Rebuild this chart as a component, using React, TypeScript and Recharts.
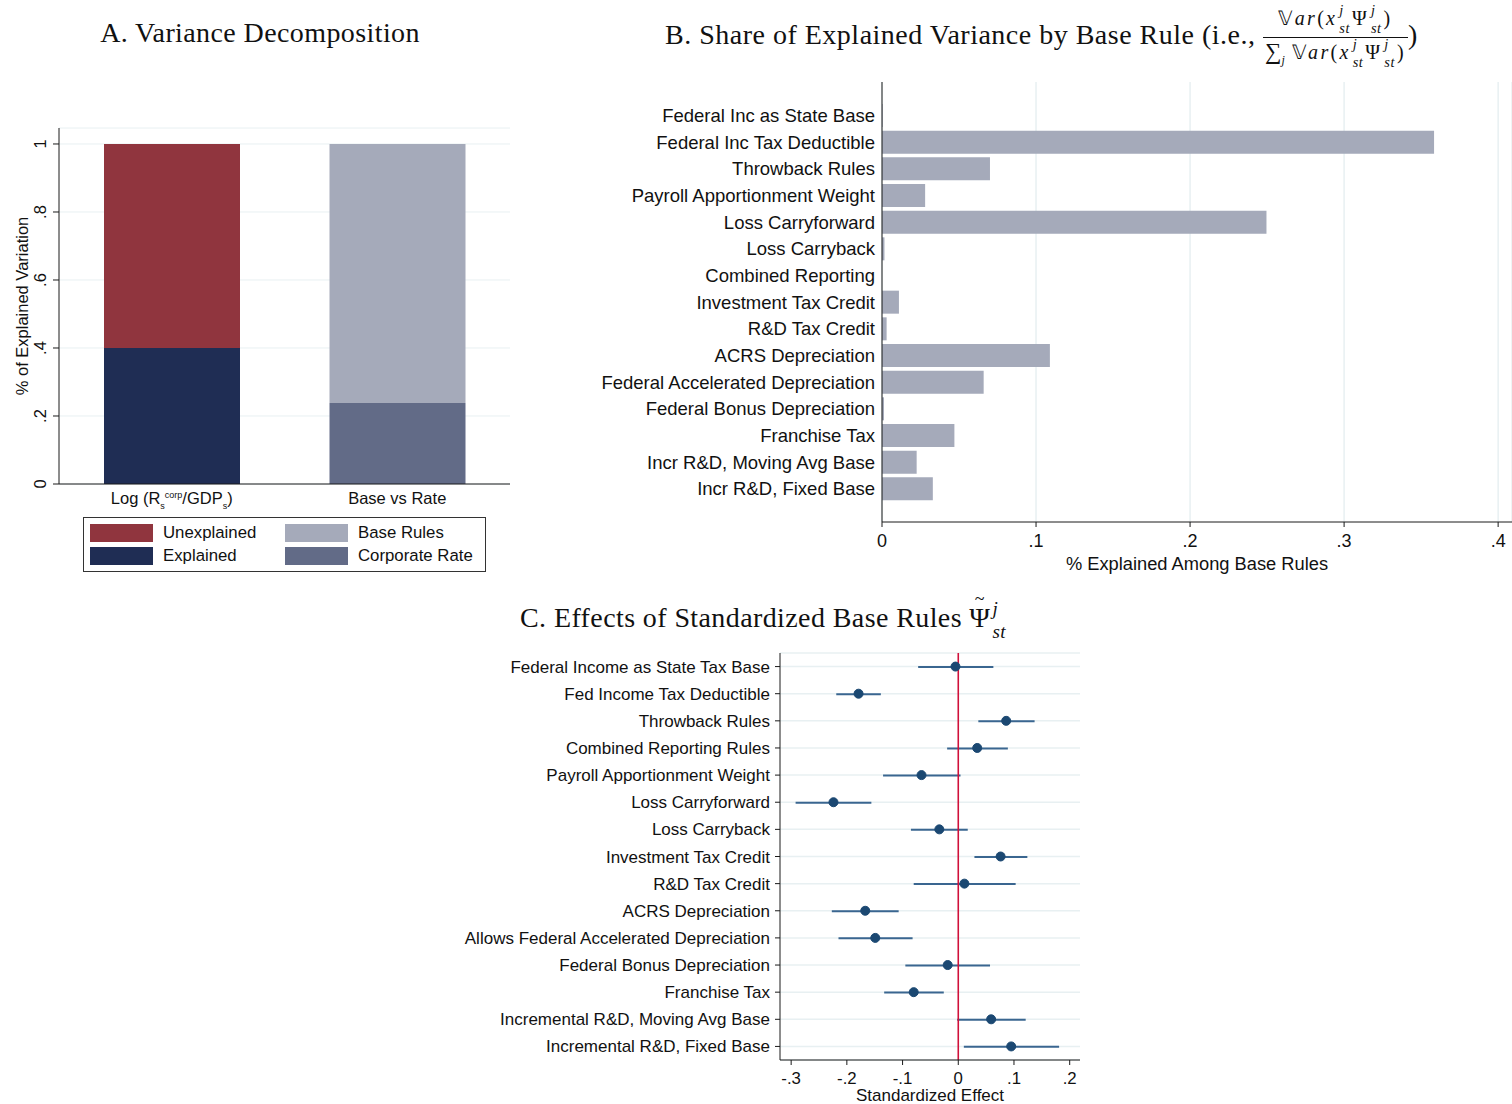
import React from 'react';
import {
  BarChart,
  Bar,
  ComposedChart,
  Line,
  XAxis,
  YAxis,
  CartesianGrid,
  ReferenceLine,
} from 'recharts';

const SANS = '"Liberation Sans", Arial, Helvetica, sans-serif';
const SERIF = '"Liberation Serif", "Times New Roman", serif';

// Panel A: variance decomposition
const decompCategories = ['Log (Rs corp/GDPs)', 'Base vs Rate'];
const explainedShare = [0.4, 0];
const unexplainedShare = [0.6, 0];
const corpRateShare = [0, 0.238];
const baseRulesShare = [0, 0.762];
const decompTicks = [0, 0.2, 0.4, 0.6, 0.8, 1];

// Panel B: share of explained variance by base rule
const ruleLabels = [
  'Federal Inc as State Base',
  'Federal Inc Tax Deductible',
  'Throwback Rules',
  'Payroll Apportionment Weight',
  'Loss Carryforward',
  'Loss Carryback',
  'Combined Reporting',
  'Investment Tax Credit',
  'R&D Tax Credit',
  'ACRS Depreciation',
  'Federal Accelerated Depreciation',
  'Federal Bonus Depreciation',
  'Franchise Tax',
  'Incr R&D, Moving Avg Base',
  'Incr R&D, Fixed Base',
];
const ruleShares = [
  0.0004, 0.3584, 0.0701, 0.028, 0.2496, 0.0016, 0.0, 0.011, 0.003, 0.109, 0.066, 0.0013, 0.047,
  0.0225, 0.033,
];
const shareTicks = [0, 0.1, 0.2, 0.3, 0.4];

// Panel C: standardized effects with confidence intervals
const effectLabels = [
  'Federal Income as State Tax Base',
  'Fed Income Tax Deductible',
  'Throwback Rules',
  'Combined Reporting Rules',
  'Payroll Apportionment Weight',
  'Loss Carryforward',
  'Loss Carryback',
  'Investment Tax Credit',
  'R&D Tax Credit',
  'ACRS Depreciation',
  'Allows Federal Accelerated Depreciation',
  'Federal Bonus Depreciation',
  'Franchise Tax',
  'Incremental R&D, Moving Avg Base',
  'Incremental R&D, Fixed Base',
];
const effectEstimates = [
  -0.005, -0.179, 0.086, 0.034, -0.066, -0.224, -0.034, 0.076, 0.011, -0.167, -0.149, -0.019, -0.08,
  0.059, 0.095,
];
const effectLower = [
  -0.072, -0.219, 0.036, -0.02, -0.135, -0.292, -0.085, 0.029, -0.08, -0.227, -0.215, -0.095, -0.133,
  -0.002, 0.01,
];
const effectUpper = [
  0.063, -0.139, 0.137, 0.089, 0.004, -0.156, 0.017, 0.124, 0.103, -0.107, -0.082, 0.057, -0.026,
  0.121, 0.181,
];
const effectTicks = [-0.3, -0.2, -0.1, 0, 0.1, 0.2];

const decompData = decompCategories.map((name, i) => ({
  name,
  explained: explainedShare[i],
  unexplained: unexplainedShare[i],
  corp: corpRateShare[i],
  base: baseRulesShare[i],
}));
const ruleData = ruleLabels.map((label, i) => ({ label, share: ruleShares[i] }));
const effectData = effectLabels.map((label, i) => ({
  label,
  est: effectEstimates[i],
  ci: [effectLower[i], effectUpper[i]],
}));

const RED = '#90353E';
const NAVY = '#1F2D54';
const LIGHT = '#A5AABA';
const SLATE = '#626B87';
const GRID = '#E8F0F2';
const AXIS = '#1a1a1a';

// Stata style: drop the leading zero
const fmt = (v: number) => (v === 0 ? '0' : String(+v.toFixed(3)).replace(/^(-?)0\./, '$1.'));

const RotatedTick = ({ x, y, payload }: any) => (
  <text
    x={x}
    y={y}
    transform={`rotate(-90, ${x}, ${y})`}
    textAnchor="middle"
    fontSize={16.5}
    fontFamily={SANS}
    fill="#111"
  >
    {fmt(payload.value)}
  </text>
);

const DecompTick = ({ x, y, payload }: any) => {
  if (String(payload.value).startsWith('Log')) {
    return (
      <text x={x} y={y} dy="0.71em" textAnchor="middle" fontSize={16.5} fontFamily={SANS} fill="#111">
        <tspan>Log (R</tspan>
        <tspan fontSize={9} dy={5}>s</tspan>
        <tspan fontSize={9} dy={-11}>corp</tspan>
        <tspan dy={6}>/GDP</tspan>
        <tspan fontSize={9} dy={5}>s</tspan>
        <tspan dy={-5}>)</tspan>
      </text>
    );
  }
  return (
    <text x={x} y={y} dy="0.71em" textAnchor="middle" fontSize={16.5} fontFamily={SANS} fill="#111">
      {payload.value}
    </text>
  );
};

const LeftTitle = ({ viewBox }: any) => {
  const cx = (viewBox?.x ?? 0) + 22;
  const cy = (viewBox?.y ?? 18) + (viewBox?.height ?? 356) / 2;
  return (
    <text
      x={cx}
      y={cy}
      transform={`rotate(-90, ${cx}, ${cy})`}
      textAnchor="middle"
      dominantBaseline="central"
      fontSize={16.5}
      fontFamily={SANS}
      fill="#111"
    >
      % of Explained Variation
    </text>
  );
};

// little stacked sup/sub for the math in titles
const Script = ({ sup, sub, size }: { sup: string; sub: string; size: number }) => (
  <span
    style={{
      display: 'inline-flex',
      flexDirection: 'column',
      verticalAlign: 'middle',
      fontSize: size,
      lineHeight: 1,
      fontStyle: 'italic',
      marginLeft: 2,
      marginRight: 2,
      letterSpacing: 0.5,
    }}
  >
    <span style={{ position: 'relative', top: -3 }}>{sup}</span>
    <span style={{ position: 'relative', top: 1 }}>{sub}</span>
  </span>
);

const VarTerm = ({ size }: { size: number }) => (
  <span style={{ whiteSpace: 'nowrap', letterSpacing: 2.3 }}>
    𝕍<i>ar</i>(<i>x</i>
    <Script sup="j" sub="st" size={size * 0.72} />Ψ
    <Script sup="j" sub="st" size={size * 0.72} />)
  </span>
);

const PsiTilde = () => (
  <span style={{ position: 'relative', display: 'inline-block' }}>
    Ψ
    <span
      style={{
        position: 'absolute',
        left: 0,
        right: 0,
        top: -14,
        textAlign: 'center',
        fontSize: 18,
      }}
    >
      ~
    </span>
  </span>
);

const LegendItem = ({ color, text }: { color: string; text: string }) => (
  <div style={{ display: 'flex', alignItems: 'center', height: 23 }}>
    <div style={{ width: 63, height: 18, background: color, marginRight: 10 }} />
    <span>{text}</span>
  </div>
);

const titleStyle: React.CSSProperties = {
  position: 'absolute',
  fontFamily: SERIF,
  fontSize: 28,
  lineHeight: 1,
  whiteSpace: 'nowrap',
  letterSpacing: 0.4,
};

export default function App() {
  return (
    <div
      style={{
        position: 'absolute',
        left: 0,
        top: 0,
        width: 1512,
        height: 1104,
        background: '#fff',
        overflow: 'hidden',
        fontFamily: SANS,
        color: '#111',
      }}
    >
      {/* titles */}
      <div style={{ ...titleStyle, left: 0, top: 19, width: 520, textAlign: 'center' }}>
        A. Variance Decomposition
      </div>
      <div style={{ ...titleStyle, left: 665, top: 6, letterSpacing: 0.5 }}>
        B. Share of Explained Variance by Base Rule (i.e.,{' '}
        <span
          style={{
            display: 'inline-flex',
            flexDirection: 'column',
            alignItems: 'center',
            verticalAlign: 'middle',
            fontSize: 20,
            letterSpacing: 0,
          }}
        >
          <span style={{ padding: '0 2px 2px' }}>
            <VarTerm size={20} />
          </span>
          <span style={{ borderTop: '1px solid #111', padding: '2px 2px 0' }}>
            <span style={{ fontSize: 23 }}>∑</span>
            <sub style={{ fontSize: 12, fontStyle: 'italic', marginRight: 7 }}>j</sub>
            <VarTerm size={20} />
          </span>
        </span>
        )
      </div>
      <div style={{ ...titleStyle, left: 520, top: 602 }}>
        C. Effects of Standardized Base Rules <PsiTilde />
        <Script sup="j" sub="st" size={19} />
      </div>

      {/* Panel A */}
      <div style={{ position: 'absolute', left: 0, top: 110 }}>
        <BarChart
          width={530}
          height={410}
          data={decompData}
          margin={{ top: 18, right: 20, bottom: 0, left: 0 }}
          barCategoryGap={0}
        >
          <CartesianGrid vertical={false} stroke={GRID} strokeWidth={1} />
          <XAxis
            dataKey="name"
            height={36}
            tickLine={false}
            tickSize={0}
            tickMargin={8}
            axisLine={{ stroke: AXIS }}
            tick={<DecompTick />}
            interval={0}
          />
          <YAxis
            type="number"
            width={59}
            domain={[0, 1.047]}
            ticks={decompTicks}
            tickSize={6}
            tickMargin={7}
            tickLine={{ stroke: AXIS }}
            axisLine={{ stroke: AXIS }}
            tick={<RotatedTick />}
            label={<LeftTitle />}
          />
          <Bar dataKey="explained" stackId="a" fill={NAVY} barSize={136} isAnimationActive={false} />
          <Bar dataKey="unexplained" stackId="a" fill={RED} barSize={136} isAnimationActive={false} />
          <Bar dataKey="corp" stackId="a" fill={SLATE} barSize={136} isAnimationActive={false} />
          <Bar dataKey="base" stackId="a" fill={LIGHT} barSize={136} isAnimationActive={false} />
        </BarChart>
      </div>

      {/* Panel A legend */}
      <div
        style={{
          position: 'absolute',
          left: 83,
          top: 517,
          width: 403,
          height: 55,
          border: '1px solid #333',
          display: 'grid',
          gridTemplateColumns: '195px 200px',
          alignContent: 'center',
          paddingLeft: 6,
          boxSizing: 'border-box',
          fontSize: 16.8,
        }}
      >
        <LegendItem color={RED} text="Unexplained" />
        <LegendItem color={LIGHT} text="Base Rules" />
        <LegendItem color={NAVY} text="Explained" />
        <LegendItem color={SLATE} text="Corporate Rate" />
      </div>

      {/* Panel B */}
      <div style={{ position: 'absolute', left: 590, top: 70 }}>
        <BarChart
          width={922}
          height={510}
          layout="vertical"
          data={ruleData}
          margin={{ top: 12, right: 0, bottom: 0, left: 0 }}
        >
          <CartesianGrid horizontal={false} stroke={GRID} strokeWidth={1.5} />
          <XAxis
            type="number"
            domain={[0, 0.409]}
            ticks={shareTicks}
            tickFormatter={fmt}
            height={58}
            tickSize={5}
            tickMargin={7}
            tickLine={{ stroke: AXIS }}
            axisLine={{ stroke: AXIS }}
            tick={{ fontSize: 18, fontFamily: SANS, fill: '#111' }}
            label={{
              value: '% Explained Among Base Rules',
              position: 'insideBottom',
              offset: 10,
              fontSize: 18.3,
              fontFamily: SANS,
              fill: '#111',
            }}
          />
          <YAxis
            type="category"
            dataKey="label"
            width={292}
            padding={{ top: 20, bottom: 20 }}
            tickLine={false}
            tickSize={0}
            tickMargin={7}
            axisLine={{ stroke: AXIS }}
            tick={{ fontSize: 18.5, fontFamily: SANS, fill: '#111' }}
            interval={0}
          />
          <Bar dataKey="share" fill={LIGHT} barSize={23} isAnimationActive={false} />
        </BarChart>
      </div>

      {/* Panel C */}
      <div style={{ position: 'absolute', left: 430, top: 640 }}>
        <ComposedChart
          width={665}
          height={464}
          layout="vertical"
          data={effectData}
          margin={{ top: 13, right: 15, bottom: 0, left: 0 }}
        >
          <CartesianGrid vertical={false} stroke={GRID} strokeWidth={1.5} />
          <XAxis
            type="number"
            domain={[-0.32, 0.2185]}
            ticks={effectTicks}
            tickFormatter={fmt}
            height={44}
            tickSize={5}
            tickMargin={7}
            tickLine={{ stroke: AXIS }}
            axisLine={{ stroke: AXIS }}
            tick={{ fontSize: 16.8, fontFamily: SANS, fill: '#111' }}
            label={{
              value: 'Standardized Effect',
              position: 'insideBottom',
              offset: 3,
              fontSize: 17,
              fontFamily: SANS,
              fill: '#111',
            }}
          />
          <YAxis
            type="category"
            dataKey="label"
            width={350}
            tickSize={5}
            tickMargin={5}
            tickLine={{ stroke: AXIS }}
            axisLine={{ stroke: AXIS }}
            tick={{ fontSize: 17, fontFamily: SANS, fill: '#111' }}
            interval={0}
          />
          <Bar dataKey="ci" fill="#3A6690" barSize={2} isAnimationActive={false} />
          <ReferenceLine x={0} stroke="#D0103A" strokeWidth={1.6} />
          <Line
            dataKey="est"
            stroke="none"
            dot={{ r: 4.5, fill: '#1B4872', stroke: '#1B4872', strokeWidth: 1 }}
            activeDot={false}
            isAnimationActive={false}
          />
        </ComposedChart>
      </div>
    </div>
  );
}
